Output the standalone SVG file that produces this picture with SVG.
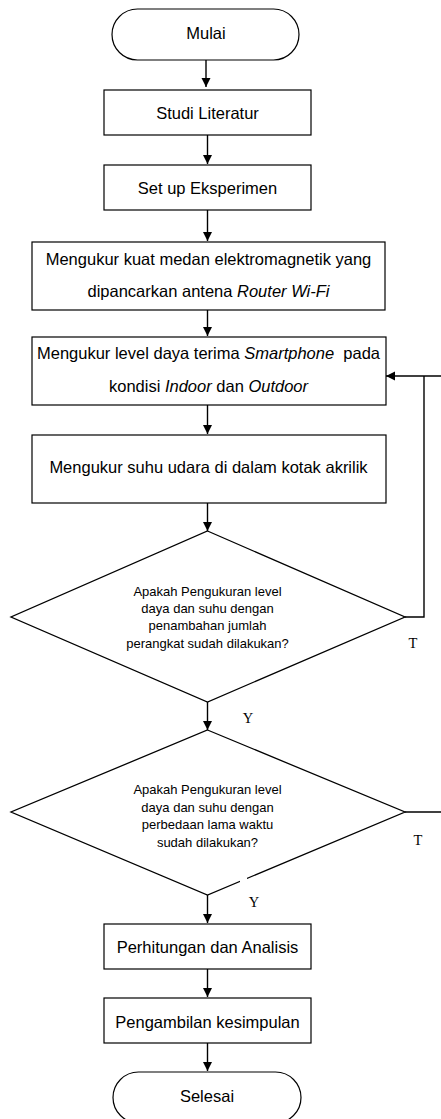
<svg xmlns="http://www.w3.org/2000/svg" width="441" height="1119" viewBox="0 0 441 1119">
<defs>
<marker id="ah" markerUnits="userSpaceOnUse" markerWidth="10" markerHeight="10" refX="9" refY="4.5" orient="auto">
<path d="M0,0 L9,4.5 L0,9 z" fill="#000"/>
</marker>
<style>
.box{fill:#fff;stroke:#000;stroke-width:1.2}
.dia{fill:#fff;stroke:#000;stroke-width:1.3}
.t{font-family:"Liberation Sans",Arial,sans-serif;font-size:16.5px;fill:#000;text-anchor:middle}
.s{font-family:"Liberation Sans",Arial,sans-serif;font-size:13px;fill:#000;text-anchor:middle}
.lbl{font-family:"Liberation Serif","Times New Roman",serif;font-size:14.5px;fill:#000;text-anchor:middle}
.c{fill:none;stroke:#000;stroke-width:1.4}
.i{font-style:italic}
</style>
</defs>
<rect width="441" height="1119" fill="#fff"/>

<g id="connectors">
<line class="c" x1="206" y1="60" x2="206" y2="87" marker-end="url(#ah)"/>
<line class="c" x1="207.5" y1="135" x2="207.5" y2="164" marker-end="url(#ah)"/>
<line class="c" x1="207.5" y1="210" x2="207.5" y2="241" marker-end="url(#ah)"/>
<line class="c" x1="207.5" y1="310" x2="207.5" y2="336" marker-end="url(#ah)"/>
<line class="c" x1="207.5" y1="405" x2="207.5" y2="434" marker-end="url(#ah)"/>
<line class="c" x1="207.5" y1="503" x2="207.5" y2="531" marker-end="url(#ah)"/>
<line class="c" x1="207.5" y1="702" x2="207.5" y2="730" marker-end="url(#ah)"/>
<line class="c" x1="207.5" y1="895" x2="207.5" y2="923" marker-end="url(#ah)"/>
<line class="c" x1="207.5" y1="969" x2="207.5" y2="997" marker-end="url(#ah)"/>
<line class="c" x1="207.5" y1="1043" x2="207.5" y2="1071" marker-end="url(#ah)"/>
<polyline class="c" points="405,617 424,617 424,376"/>
<line class="c" x1="441" y1="376" x2="386" y2="376" marker-end="url(#ah)"/>
<line class="c" x1="405" y1="812" x2="441" y2="812"/>
</g>

<g id="mulai">
<rect class="box" x="112" y="9" width="187" height="51" rx="25.5" ry="25.5"/>
<text class="t" x="206" y="39">Mulai</text>
</g>
<g id="studi-literatur">
<rect class="box" x="104" y="90" width="207" height="45"/>
<text class="t" x="207.5" y="119">Studi Literatur</text>
</g>
<g id="setup">
<rect class="box" x="104" y="165" width="207" height="45"/>
<text class="t" x="207.5" y="194">Set up Eksperimen</text>
</g>
<g id="ukur-medan">
<rect class="box" x="32" y="242" width="353" height="68"/>
<text class="t" x="208.5" y="265">Mengukur kuat medan elektromagnetik yang</text>
<text class="t" x="208.5" y="297">dipancarkan antena <tspan class="i">Router Wi-Fi</tspan></text>
</g>
<g id="ukur-daya">
<rect class="box" x="32" y="337" width="354" height="68"/>
<text class="t" x="208.5" y="359" xml:space="preserve">Mengukur level daya terima <tspan class="i">Smartphone</tspan>  pada</text>
<text class="t" x="208.5" y="392">kondisi <tspan class="i">Indoor</tspan> dan <tspan class="i">Outdoor</tspan></text>
</g>
<g id="ukur-suhu">
<rect class="box" x="32" y="435" width="354" height="68"/>
<text class="t" x="208.5" y="473">Mengukur suhu udara di dalam kotak akrilik</text>
</g>
<g id="keputusan-1">
<polygon class="dia" points="207.5,531 405,617 207.5,702 11,617"/>
<text class="s" x="207.5" y="596">Apakah Pengukuran level</text>
<text class="s" x="207.5" y="613">daya dan suhu dengan</text>
<text class="s" x="207.5" y="630">penambahan jumlah</text>
<text class="s" x="207.5" y="648">perangkat sudah dilakukan?</text>
</g>
<g id="keputusan-2">
<polygon class="dia" points="207.5,730 405,812 207.5,895 11,812"/>
<text class="s" x="207.5" y="794">Apakah Pengukuran level</text>
<text class="s" x="207.5" y="812">daya dan suhu dengan</text>
<text class="s" x="207.5" y="829">perbedaan lama waktu</text>
<text class="s" x="207.5" y="847">sudah dilakukan?</text>
</g>
<g id="labels">
<text class="lbl" x="413" y="648">T</text>
<text class="lbl" x="248" y="723">Y</text>
<text class="lbl" x="418" y="845">T</text>
<rect x="240" y="875" width="7" height="9" fill="#fff"/>
<text class="lbl" x="254" y="907">Y</text>
</g>
<g id="perhitungan">
<rect class="box" x="104" y="924" width="207" height="45"/>
<text class="t" x="207.5" y="953">Perhitungan dan Analisis</text>
</g>
<g id="kesimpulan">
<rect class="box" x="104" y="998" width="207" height="45"/>
<text class="t" x="207.5" y="1028">Pengambilan kesimpulan</text>
</g>
<g id="selesai">
<rect class="box" x="113" y="1072" width="188" height="51" rx="25.5" ry="25.5"/>
<text class="t" x="207" y="1102">Selesai</text>
</g>
</svg>
